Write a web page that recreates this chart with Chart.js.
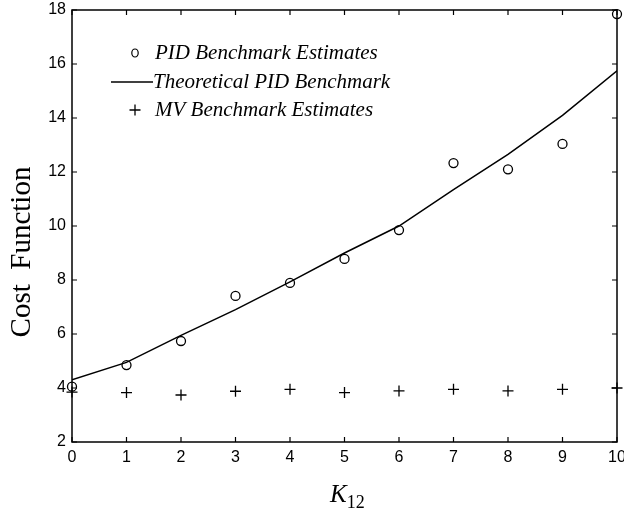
<!DOCTYPE html>
<html>
<head>
<meta charset="utf-8">
<script src="https://cdn.jsdelivr.net/npm/chart.js@4.4.1/dist/chart.umd.min.js"></script>
<style>
html,body{margin:0;padding:0;background:#fff;}
#wrap{width:624px;height:514px;position:relative;}
</style>
</head>
<body>
<div id="wrap"><canvas id="c" width="624" height="514"></canvas></div>
<script>
// ---- data ----
const k12 = [0, 1, 2, 3, 4, 5, 6, 7, 8, 9, 10];
const pidEstimates = [4.05, 4.85, 5.74, 7.41, 7.89, 8.78, 9.85, 12.33, 12.1, 13.04, 17.85];
const pidTheoretical = [4.3, 4.95, 5.95, 6.9, 7.93, 9.0, 10.0, 11.35, 12.65, 14.1, 15.75];
const mvEstimates = [3.85, 3.83, 3.74, 3.88, 3.95, 3.83, 3.89, 3.95, 3.89, 3.95, 4.0];
const legendLabels = ['PID Benchmark Estimates', 'Theoretical PID Benchmark', 'MV Benchmark Estimates'];
const xTitle = 'K';
const xTitleSub = '12';
const yTitle = 'Cost  Function';

const toXY = (ys) => ys.map((y, i) => ({x: k12[i], y: y}));

const boxPlugin = {
  id: 'boxTicks',
  afterDatasetsDraw(chart) {
    const ctx = chart.ctx;
    const a = chart.chartArea;
    const xs = chart.scales.x, ys = chart.scales.y;
    ctx.save();
    ctx.strokeStyle = '#000';
    ctx.lineWidth = 1.5;
    ctx.strokeRect(a.left, a.top, a.right - a.left, a.bottom - a.top);
    ctx.lineWidth = 1.2;
    const tl = 5;
    ctx.beginPath();
    xs.ticks.forEach(t => {
      const px = xs.getPixelForValue(t.value);
      ctx.moveTo(px, a.bottom); ctx.lineTo(px, a.bottom - tl);
      ctx.moveTo(px, a.top); ctx.lineTo(px, a.top + tl);
    });
    ys.ticks.forEach(t => {
      const py = ys.getPixelForValue(t.value);
      ctx.moveTo(a.left, py); ctx.lineTo(a.left + tl, py);
      ctx.moveTo(a.right, py); ctx.lineTo(a.right - tl, py);
    });
    ctx.stroke();
    ctx.restore();
  },
  afterDraw(chart) {
    const ctx = chart.ctx;
    ctx.save();
    ctx.fillStyle = '#000';
    ctx.strokeStyle = '#000';
    // legend
    const rowsY = [53, 82, 110];
    const mx = 135;
    ctx.lineWidth = 1.2;
    ctx.beginPath();
    ctx.ellipse(mx, rowsY[0], 3.2, 4, 0, 0, Math.PI * 2);
    ctx.stroke();
    ctx.lineWidth = 1.3;
    ctx.beginPath();
    ctx.moveTo(111, rowsY[1]); ctx.lineTo(153, rowsY[1]);
    ctx.stroke();
    ctx.beginPath();
    ctx.moveTo(mx - 5.5, rowsY[2]); ctx.lineTo(mx + 5.5, rowsY[2]);
    ctx.moveTo(mx, rowsY[2] - 5.5); ctx.lineTo(mx, rowsY[2] + 5.5);
    ctx.stroke();
    ctx.font = 'italic 21px "Liberation Serif", "Times New Roman", serif';
    ctx.textBaseline = 'middle';
    ctx.textAlign = 'left';
    ctx.fillText(legendLabels[0], 155, rowsY[0]);
    ctx.fillText(legendLabels[1], 153, rowsY[1]);
    ctx.fillText(legendLabels[2], 155, rowsY[2]);
    // x title
    ctx.textBaseline = 'alphabetic';
    ctx.font = 'italic 25px "Liberation Serif", "Times New Roman", serif';
    ctx.fillText(xTitle, 330, 502);
    const kw = ctx.measureText(xTitle).width;
    ctx.font = '18px "Liberation Serif", "Times New Roman", serif';
    ctx.fillText(xTitleSub, 330 + kw, 508);
    // y title
    ctx.translate(30, 252);
    ctx.rotate(-Math.PI / 2);
    ctx.font = '29px "Liberation Serif", "Times New Roman", serif';
    ctx.textAlign = 'center';
    ctx.textBaseline = 'alphabetic';
    ctx.fillText(yTitle, 0, 0);
    ctx.restore();
  }
};

new Chart(document.getElementById('c'), {
  type: 'scatter',
  data: {
    datasets: [
      {
        label: legendLabels[0],
        data: toXY(pidEstimates),
        pointStyle: 'circle',
        pointRadius: 4.5,
        borderColor: '#000',
        backgroundColor: 'rgba(0,0,0,0)',
        borderWidth: 1.3,
        showLine: false,
        clip: false
      },
      {
        label: legendLabels[1],
        data: toXY(pidTheoretical),
        showLine: true,
        pointRadius: 0,
        borderColor: '#000',
        borderWidth: 1.5,
        tension: 0,
        fill: false
      },
      {
        label: legendLabels[2],
        data: toXY(mvEstimates),
        pointStyle: 'cross',
        pointRadius: 5.5,
        borderColor: '#000',
        backgroundColor: '#000',
        borderWidth: 1.3,
        showLine: false,
        clip: false
      }
    ]
  },
  options: {
    responsive: false,
    animation: false,
    layout: { padding: { top: 10, right: 7, left: 0, bottom: 0 } },
    plugins: { legend: { display: false }, tooltip: { enabled: false } },
    scales: {
      x: {
        type: 'linear', min: 0, max: 10,
        ticks: { stepSize: 1, color: '#000', padding: 6,
          font: { family: '"Liberation Sans", Arial, sans-serif', size: 16 } },
        grid: { display: false, drawTicks: false },
        border: { display: false },
        afterFit(s) { s.height = 72; s.paddingLeft = 0; s.paddingRight = 0; }
      },
      y: {
        type: 'linear', min: 2, max: 18,
        ticks: { stepSize: 2, color: '#000', padding: 6,
          font: { family: '"Liberation Sans", Arial, sans-serif', size: 16 } },
        grid: { display: false, drawTicks: false },
        border: { display: false },
        afterFit(s) { s.width = 72; s.paddingTop = 0; s.paddingBottom = 0; }
      }
    }
  },
  plugins: [boxPlugin]
});
</script>
</body>
</html>
